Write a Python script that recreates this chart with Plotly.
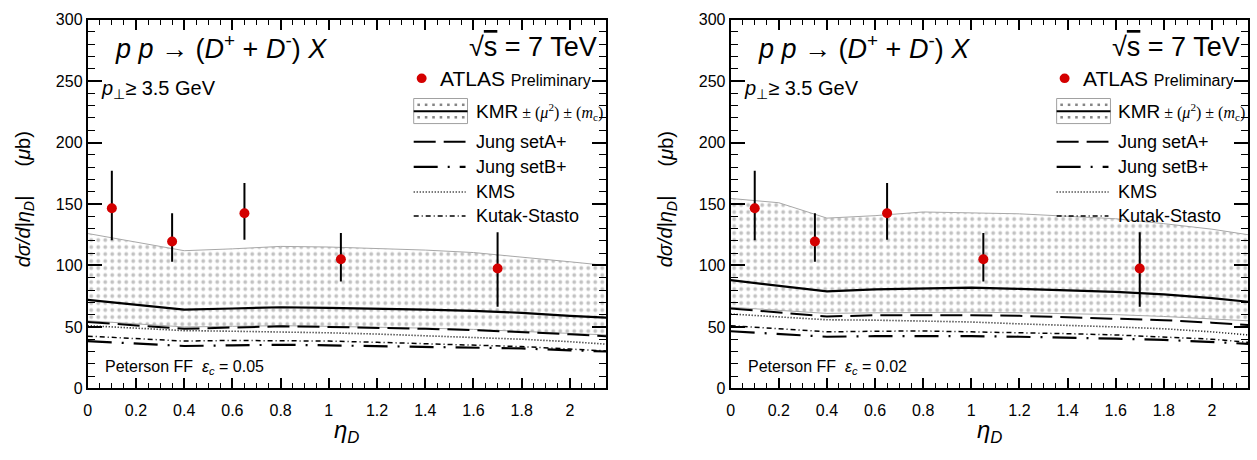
import plotly.graph_objects as go

W, H = 1257, 460
SANS = "Liberation Sans, Arial, sans-serif"
SERIF = "Liberation Serif, Times New Roman, serif"

# pseudorapidity grid of the theory curves
eta = [0.0, 0.2, 0.4, 0.6, 0.8, 1.0, 1.2, 1.4, 1.6, 1.8, 2.0, 2.15]

# ATLAS preliminary measurement (same in both panels)
atlas_eta = [0.1, 0.35, 0.65, 1.05, 1.7]
atlas_xsec = [146.5, 119.5, 142.5, 105.0, 97.5]
atlas_err_up = [30.5, 23.0, 24.5, 21.5, 29.5]
atlas_err_dn = [26.0, 16.5, 21.5, 18.0, 31.0]

# Peterson FF, eps_c = 0.05
kmr_hi_a = [126, 119, 112, 113.5, 115.5, 115, 114, 112.5, 110.5, 107, 103, 100]
kmr_a = [72, 68, 64, 65, 66, 65.5, 65, 64, 63, 61.5, 59, 57.5]
kmr_lo_a = [55, 52.5, 50, 50.5, 51, 50.5, 50, 49, 48, 46.5, 44.5, 43.5]
jungA_a = [54, 51.5, 48.5, 49.5, 50.5, 50, 49.5, 48.5, 47.5, 46, 44, 42.5]
jungB_a = [38.5, 36.5, 34.5, 35, 35.5, 35, 34.5, 34, 33.5, 32.5, 31, 30]
kms_a = [51, 49, 47, 46.5, 46, 45.2, 44.2, 43, 41.5, 40, 38, 36]
kutak_a = [42.5, 40.5, 38.5, 39, 39, 38.5, 37.5, 36.5, 35.5, 34, 32, 30.5]

# Peterson FF, eps_c = 0.02
kmr_hi_b = [154.5, 151, 138.5, 140.5, 143.5, 143, 142, 140, 138, 134, 129.5, 125]
kmr_b = [88, 83.5, 79, 80.5, 81.5, 82, 81, 80, 78.5, 76.5, 73.5, 70.5]
kmr_lo_b = [66, 63.5, 61, 61.5, 62, 62, 61.5, 61, 60, 58.5, 56.5, 55]
jungA_b = [65, 61.5, 58.5, 59.5, 59.7, 59.5, 59, 58, 57, 55.5, 53.5, 51.5]
jungB_b = [46.5, 44, 42, 42.5, 42.8, 42.5, 42, 41.5, 40.5, 39.5, 38, 36.3]
kms_b = [60.5, 58, 55.8, 55.5, 55, 54, 52.5, 51.5, 50, 48.5, 46, 43.5]
kutak_b = [51, 48.5, 46, 46.5, 46.7, 46, 45.4, 44.5, 43.5, 42, 40, 37.5]

eps_labels = ["0.05", "0.02"]
x_ticks = [0, 0.2, 0.4, 0.6, 0.8, 1, 1.2, 1.4, 1.6, 1.8, 2]
y_ticks = [0, 50, 100, 150, 200, 250, 300]

line_names = ["Jung setA+", "Jung setB+", "KMS", "Kutak-Stasto"]
line_dash = ["22px,8px", "24px,10px,2px,10px", "1px,2px", "5px,3px,1px,3px"]
line_width = [2, 2.2, 1.6, 1.5]

panels = [
    dict(hi=kmr_hi_a, mid=kmr_a, lo=kmr_lo_a, lines=[jungA_a, jungB_a, kms_a, kutak_a], eps=eps_labels[0]),
    dict(hi=kmr_hi_b, mid=kmr_b, lo=kmr_lo_b, lines=[jungA_b, jungB_b, kms_b, kutak_b], eps=eps_labels[1]),
]

# pixel frame of each panel
frames = [(84, 604), (729, 1248)]
TOP, BOT = 12, 395
DOT_GRAY = "#858585"


def px(x):
    return x / W


def py(y):
    return 1 - y / H


fig = go.Figure()
shapes = []
annotations = []

for i, (p, (x0, x1)) in enumerate(zip(panels, frames)):
    xa = "x" if i == 0 else "x2"
    ya = "y" if i == 0 else "y2"
    # KMR uncertainty band
    fig.add_trace(go.Scatter(x=eta, y=p["lo"], mode="lines", xaxis=xa, yaxis=ya,
                             line=dict(color="#a8a8a8", width=1), showlegend=False))
    fig.add_trace(go.Scatter(x=eta, y=p["hi"], mode="lines", xaxis=xa, yaxis=ya,
                             line=dict(color="#a8a8a8", width=1), fill="tonexty",
                             fillcolor="white",
                             fillpattern=dict(shape=".", size=7, solidity=0.24,
                                              fgcolor=DOT_GRAY, bgcolor="white"),
                             showlegend=False))
    # KMR central value
    fig.add_trace(go.Scatter(x=eta, y=p["mid"], mode="lines", xaxis=xa, yaxis=ya,
                             line=dict(color="black", width=2.2), showlegend=False))
    for yv, nm, ds, lw in zip(p["lines"], line_names, line_dash, line_width):
        fig.add_trace(go.Scatter(x=eta, y=yv, mode="lines", xaxis=xa, yaxis=ya, name=nm,
                                 line=dict(color="black", width=lw, dash=ds), showlegend=False))
    fig.add_trace(go.Scatter(x=atlas_eta, y=atlas_xsec, mode="markers", xaxis=xa, yaxis=ya,
                             marker=dict(color="#d40000", size=10),
                             error_y=dict(type="data", symmetric=False, array=atlas_err_up,
                                          arrayminus=atlas_err_dn, color="black",
                                          thickness=2, width=0),
                             showlegend=False))

    off = x0 - 84
    # process label
    annotations.append(dict(
        x=px(109 + off), y=py(41), xref="paper", yref="paper", xanchor="left", yanchor="middle",
        text="<i>p p</i> → (<i>D</i><sup>+</sup> + <i>D</i><sup>-</sup>) <i>X</i>",
        showarrow=False, font=dict(family=SANS, size=27, color="black")))
    annotations.append(dict(
        x=px(597 + off), y=py(41), xref="paper", yref="paper", xanchor="right", yanchor="middle",
        text="√<span style='text-decoration:overline'>s</span> = 7 TeV",
        showarrow=False, font=dict(family=SANS, size=27, color="black")))
    annotations.append(dict(
        x=px(95 + off), y=py(85), xref="paper", yref="paper", xanchor="left", yanchor="middle",
        text="<i>p</i><sub>⊥</sub>≥ 3.5 GeV",
        showarrow=False, font=dict(family=SANS, size=20, color="black")))
    annotations.append(dict(
        x=px(99 + off), y=py(373), xref="paper", yref="paper", xanchor="left", yanchor="middle",
        text="Peterson FF  <i>ε<sub>c</sub></i> = " + p["eps"],
        showarrow=False, font=dict(family=SANS, size=16, color="black")))
    # axis titles
    annotations.append(dict(
        x=px(20 + off), y=py(232), xref="paper", yref="paper", xanchor="center", yanchor="middle",
        text="<i>dσ/d|η<sub>D</sub>|</i>", textangle=-90,
        showarrow=False, font=dict(family=SANS, size=20, color="black")))
    annotations.append(dict(
        x=px(19 + off), y=py(146), xref="paper", yref="paper", xanchor="center", yanchor="middle",
        text="(<i>μ</i>b)", textangle=-90,
        showarrow=False, font=dict(family=SANS, size=20, color="black")))
    annotations.append(dict(
        x=px(344 + off), y=py(440), xref="paper", yref="paper", xanchor="center", yanchor="middle",
        text="<i>η<sub>D</sub></i>",
        showarrow=False, font=dict(family=SANS, size=24, color="black")))

    # legend block
    lx0, lx1, tx = 411 + off, 463 + off, 471 + off
    shapes.append(dict(type="circle", xref="paper", yref="paper",
                       x0=px(414 + off), x1=px(424 + off), y0=py(78), y1=py(68),
                       fillcolor="#d40000", line=dict(width=0)))
    annotations.append(dict(
        x=px(435 + off), y=py(73), xref="paper", yref="paper", xanchor="left", yanchor="middle",
        text="ATLAS <span style='font-size:16px'>Preliminary</span>",
        showarrow=False, font=dict(family=SANS, size=21, color="black")))
    # KMR band sample
    shapes.append(dict(type="rect", xref="paper", yref="paper",
                       x0=px(lx0), x1=px(465 + off), y0=py(120), y1=py(94),
                       fillcolor="white", line=dict(color="#a0a0a0", width=1)))
    for row in (100.5, 113.5):
        for k in range(7):
            cx = 416 + off + k * 7.45
            shapes.append(dict(type="rect", xref="paper", yref="paper",
                               x0=px(cx - 1.3), x1=px(cx + 1.3), y0=py(row + 1.3), y1=py(row - 1.3),
                               fillcolor=DOT_GRAY, line=dict(width=0)))
    shapes.append(dict(type="line", xref="paper", yref="paper",
                       x0=px(lx0), x1=px(465 + off), y0=py(107.3), y1=py(107.3),
                       line=dict(color="black", width=2)))
    annotations.append(dict(
        x=px(tx), y=py(108), xref="paper", yref="paper", xanchor="left", yanchor="middle",
        text="KMR<span style='font-family:" + SERIF + ";font-size:16px'> ± (<i>μ</i><sup>2</sup>) ± (<i>m</i><sub>c</sub>)</span>",
        showarrow=False, font=dict(family=SANS, size=19, color="black")))
    for yrow, nm, ds, lw in zip([139, 165, 191, 216], line_names, line_dash, line_width):
        shapes.append(dict(type="line", xref="paper", yref="paper",
                           x0=px(lx0), x1=px(lx1), y0=py(yrow), y1=py(yrow),
                           line=dict(color="black", width=lw, dash=ds)))
        annotations.append(dict(
            x=px(tx), y=py(yrow), xref="paper", yref="paper", xanchor="left", yanchor="middle",
            text=nm, showarrow=False, font=dict(family=SANS, size=18, color="black")))

axis_common = dict(showline=True, linecolor="black", linewidth=2, mirror="allticks",
                   ticks="inside", tickcolor="black", showgrid=False, zeroline=False,
                   tickfont=dict(family=SANS, size=16, color="black"))


def xaxis(dom, anchor):
    return dict(axis_common, domain=dom, anchor=anchor, range=[0, 2.15],
                tickmode="array", tickvals=x_ticks, ticklen=10, tickwidth=1.5,
                ticklabelstandoff=6,
                minor=dict(ticks="inside", dtick=0.05, tick0=0, ticklen=5, tickwidth=1,
                           tickcolor="black", showgrid=False))


def yaxis(anchor):
    return dict(axis_common, domain=[1 - BOT / H, 1 - TOP / H], anchor=anchor, range=[0, 300],
                tickmode="array", tickvals=y_ticks, ticklen=14, tickwidth=1.5,
                minor=dict(ticks="inside", dtick=10, tick0=0, ticklen=7, tickwidth=1,
                           tickcolor="black", showgrid=False))


fig.update_layout(
    width=W, height=H,
    margin=dict(l=0, r=0, t=0, b=0),
    paper_bgcolor="white", plot_bgcolor="white",
    showlegend=False,
    xaxis=xaxis([px(frames[0][0]), px(frames[0][1])], "y"),
    yaxis=yaxis("x"),
    xaxis2=xaxis([px(frames[1][0]), px(frames[1][1])], "y2"),
    yaxis2=yaxis("x2"),
    shapes=shapes,
    annotations=annotations,
)

fig.write_html("out.html")
